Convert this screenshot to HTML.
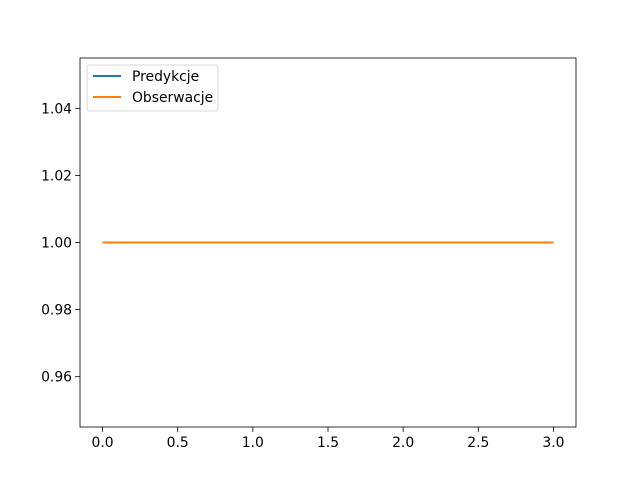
<!DOCTYPE html>
<html><head><meta charset="utf-8"><style>
body{margin:0;background:#fff;}
svg{display:block;font-family:"DejaVu Sans","Liberation Sans",sans-serif;}
</style></head><body>
<svg id="chart" width="640" height="480">
<rect width="640" height="480" fill="#fff"/>
<g id="plot"></g>
</svg>
<script>
const xValues=[0,1,2,3];
const predictions=[1,1,1,1];
const observations=[1,1,1,1];
const xTicks=[0.0,0.5,1.0,1.5,2.0,2.5,3.0];
const yTicks=[0.96,0.98,1.00,1.02,1.04];
const seriesNames=["Predykcje","Obserwacje"];

const L=80,R=576,T=58,B=427;
const xMin=-0.15,xMax=3.15,yMin=0.945,yMax=1.055;
const sx=v=>L+(v-xMin)/(xMax-xMin)*(R-L);
const sy=v=>B-(v-yMin)/(yMax-yMin)*(B-T);
const NS="http://www.w3.org/2000/svg";
const g=document.getElementById('plot');
function mk(tag,attrs,parent){const e=document.createElementNS(NS,tag);for(const k in attrs)e.setAttribute(k,attrs[k]);(parent||g).appendChild(e);return e;}

xTicks.forEach(t=>{
  const x=sx(t);
  const l=mk('line',{x1:x,x2:x,y1:B,y2:B+4.9,stroke:'#000','stroke-width':0.8});
  
  
  const tx=mk('text',{x:x,y:B+20,'font-size':13.9,'text-anchor':'middle',fill:'#000'});
  tx.textContent=t.toFixed(1);
  
  
});
yTicks.forEach(t=>{
  const y=sy(t);
  const l=mk('line',{x1:L-4.9,x2:L,y1:y,y2:y,stroke:'#000','stroke-width':0.8});
  
  
  const tx=mk('text',{x:L-8,y:y+5,'font-size':13.9,'text-anchor':'end',fill:'#000'});
  tx.textContent=t.toFixed(2);
  
  
});

function drawLine(vals,color,name){
  const p=mk('polyline',{points:xValues.map((x,i)=>sx(x)+','+sy(vals[i])).join(' '),fill:'none',stroke:color,'stroke-width':2});
  
  
}
drawLine(predictions,'#1f77b4','predictions-line');
drawLine(observations,'#ff7f0e','observations-line');

const frame=mk('rect',{x:L,y:T,width:R-L,height:B-T,fill:'none',stroke:'#000','stroke-width':0.8});



const lg=mk('g',{});


mk('rect',{x:87,y:65,width:131,height:46,rx:2,fill:'#fff',stroke:'#ccc','stroke-width':0.8},lg);
const colors=['#1f77b4','#ff7f0e'];
seriesNames.forEach((n,i)=>{
  const y=76+i*21;
  const e=mk('g',{},lg);
  
  
  mk('line',{x1:93,x2:121,y1:y,y2:y,stroke:colors[i],'stroke-width':2},e);
  const t=mk('text',{x:132,y:y+5,'font-size':13.9,fill:'#000'},e);
  t.textContent=n;
});
</script>
</body></html>
